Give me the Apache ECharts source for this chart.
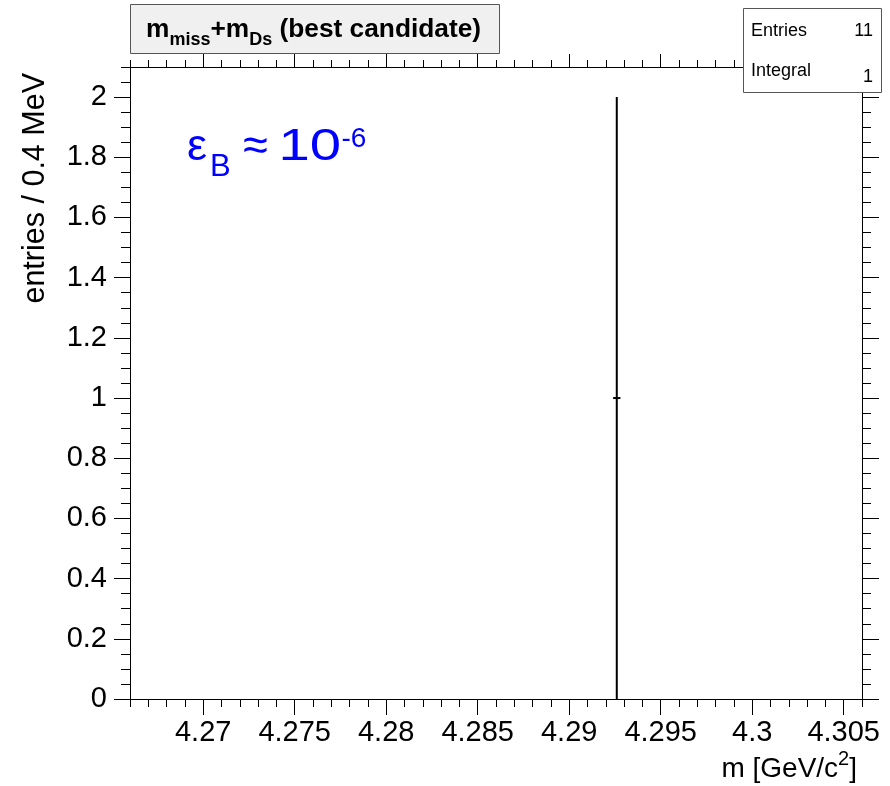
<!DOCTYPE html>
<html>
<head>
<meta charset="utf-8">
<script src="https://cdn.jsdelivr.net/npm/echarts@6/dist/echarts.min.js"></script>
<style>
  html, body { margin: 0; padding: 0; background: #fff; }
  #main { width: 890px; height: 786px; }
</style>
</head>
<body>
<div id="main"></div>
<script>
// histogram content (only one filled bin inside the range)
var binCenters = [4.2926];
var binCounts = [1];
var binErrors = [1];
var binWidth = 0.0004;

var xRange = [4.266, 4.306];
var yRange = [0, 2.1];
var xMajorTicks = [4.27, 4.275, 4.28, 4.285, 4.29, 4.295, 4.3, 4.305];
var yMajorTicks = [0, 0.2, 0.4, 0.6, 0.8, 1, 1.2, 1.4, 1.6, 1.8, 2];

// minor ticks: every 1 MeV on x, every 0.05 on y
var xMinorTicks = [];
for (var i = 0; i <= 40; i++) xMinorTicks.push(Math.round((4.266 + i * 0.001) * 1000) / 1000);
var yMinorTicks = [];
for (var j = 0; j <= 42; j++) yMinorTicks.push(Math.round(j * 0.05 * 100) / 100);

var FONT = '"Liberation Sans", Arial, Helvetica, sans-serif';
var BLUE = '#0000ff';

function axis(pos, range, ticks, len, showLine, label) {
  return {
    type: 'value',
    position: pos,
    min: range[0],
    max: range[1],
    axisLine: { show: showLine, onZero: false, lineStyle: { color: '#000', width: 1 } },
    axisTick: { show: true, inside: false, length: len, customValues: ticks,
                lineStyle: { color: '#000', width: 1 } },
    axisLabel: label || { show: false },
    splitLine: { show: false },
    minorTick: { show: false },
    minorSplitLine: { show: false }
  };
}

var xLabel = {
  show: true, customValues: xMajorTicks, margin: 19,
  color: '#000', fontSize: 29, fontFamily: FONT,
  formatter: function (v) { return String(Math.round(v * 1000) / 1000); }
};
var yLabel = {
  show: true, customValues: yMajorTicks, margin: 23,
  color: '#000', fontSize: 29, fontFamily: FONT,
  formatter: function (v) { return String(Math.round(v * 100) / 100); }
};

function plainText(x, y, txt, size, align, color) {
  return { type: 'text', x: x, y: y, z: 11,
    style: { text: txt, fontSize: size, fontFamily: FONT, fill: color || '#000',
             align: align || 'left', verticalAlign: 'middle' } };
}

var chart = echarts.init(document.getElementById('main'));
chart.setOption({
  backgroundColor: '#fff',
  animation: false,
  grid: { left: 130, top: 67, right: 28, bottom: 87, containLabel: false, outerBoundsMode: 'none' },
  xAxis: [
    axis('bottom', xRange, xMajorTicks, 16, true, xLabel),
    axis('bottom', xRange, xMinorTicks, 8, false),
    axis('top', xRange, xMajorTicks, 13, true),
    axis('top', xRange, xMinorTicks, 7, false)
  ],
  yAxis: [
    axis('left', yRange, yMajorTicks, 16, true, yLabel),
    axis('left', yRange, yMinorTicks, 9, false),
    axis('right', yRange, yMajorTicks, 17, true),
    axis('right', yRange, yMinorTicks, 9, false)
  ],
  series: [{
    type: 'custom',
    xAxisIndex: 0,
    yAxisIndex: 0,
    data: binCenters.map(function (x, k) { return [x, binCounts[k], binErrors[k]]; }),
    encode: { x: 0, y: 1 },
    renderItem: function (params, api) {
      var x = api.value(0), y = api.value(1), e = api.value(2);
      var top = api.coord([x, y + e]);
      var bot = api.coord([x, y - e]);
      var lft = api.coord([x - binWidth / 2, y]);
      var rgt = api.coord([x + binWidth / 2, y]);
      return {
        type: 'group',
        children: [
          { type: 'line', shape: { x1: top[0], y1: top[1], x2: bot[0], y2: bot[1] },
            style: { stroke: '#000', lineWidth: 2 } },
          { type: 'line', shape: { x1: lft[0], y1: lft[1], x2: rgt[0], y2: rgt[1] },
            style: { stroke: '#000', lineWidth: 2 } }
        ]
      };
    }
  }],
  graphic: [
    // title box
    { type: 'rect', left: 130, top: 4, shape: { width: 369, height: 49 },
      style: { fill: '#f0f0f0', stroke: '#555', lineWidth: 1 }, z: 10 },
    { type: 'text', x: 146, y: 9.5, z: 11,
      style: {
        text: '{b|m}{s|miss}{b|+m}{s|Ds}{b| (best candidate)}',
        verticalAlign: 'top', fill: '#000',
        rich: {
          b: { fontSize: 26.3, fontWeight: 'bold', fontFamily: FONT, lineHeight: 40, fill: '#000' },
          s: { fontSize: 18, fontWeight: 'bold', fontFamily: FONT, lineHeight: 19, verticalAlign: 'bottom', fill: '#000' }
        }
      } },
    // stats box
    { type: 'rect', left: 743, top: 8, shape: { width: 138, height: 84 },
      style: { fill: '#fff', stroke: '#555', lineWidth: 1 }, z: 10 },
    plainText(751, 31.5, 'Entries', 18),
    plainText(873, 31.5, '11', 18, 'right'),
    plainText(751, 71.5, 'Integral', 18),
    plainText(873, 77.5, '1', 18, 'right'),
    // annotation
    { type: 'text', x: 187, y: 113, z: 11,
      style: {
        text: '{m|ε}{sb|B}{m| ≈}',
        verticalAlign: 'top', fill: BLUE,
        rich: {
          m: { fontSize: 45, fontFamily: FONT, lineHeight: 70, fill: BLUE },
          sb: { fontSize: 31, fontFamily: FONT, lineHeight: 34, verticalAlign: 'bottom',
                padding: [0, 0, 0, 3], fill: BLUE }
        }
      } },
    { type: 'text', x: 278.5, y: 148, scaleX: 1.25, z: 11,
      style: { text: '10', fontSize: 45, fontFamily: FONT, fill: BLUE, verticalAlign: 'middle' } },
    plainText(341.5, 139.5, '-6', 28, 'left', BLUE),
    // x axis title
    { type: 'text', x: 857, y: 749, z: 11,
      style: {
        text: '{a|m [GeV/c}{s|2}{a|]}',
        align: 'right', verticalAlign: 'top', fill: '#000',
        rich: {
          a: { fontSize: 28, fontFamily: FONT, lineHeight: 40, fill: '#000' },
          s: { fontSize: 20, fontFamily: FONT, lineHeight: 18, verticalAlign: 'top', fill: '#000' }
        }
      } },
    // y axis title
    { type: 'text', x: 36, y: 73, rotation: Math.PI / 2, z: 11,
      style: { text: 'entries / 0.4 MeV', fontSize: 30.5, fontFamily: FONT, fill: '#000',
               align: 'right', verticalAlign: 'middle' } }
  ]
});
</script>
</body>
</html>
